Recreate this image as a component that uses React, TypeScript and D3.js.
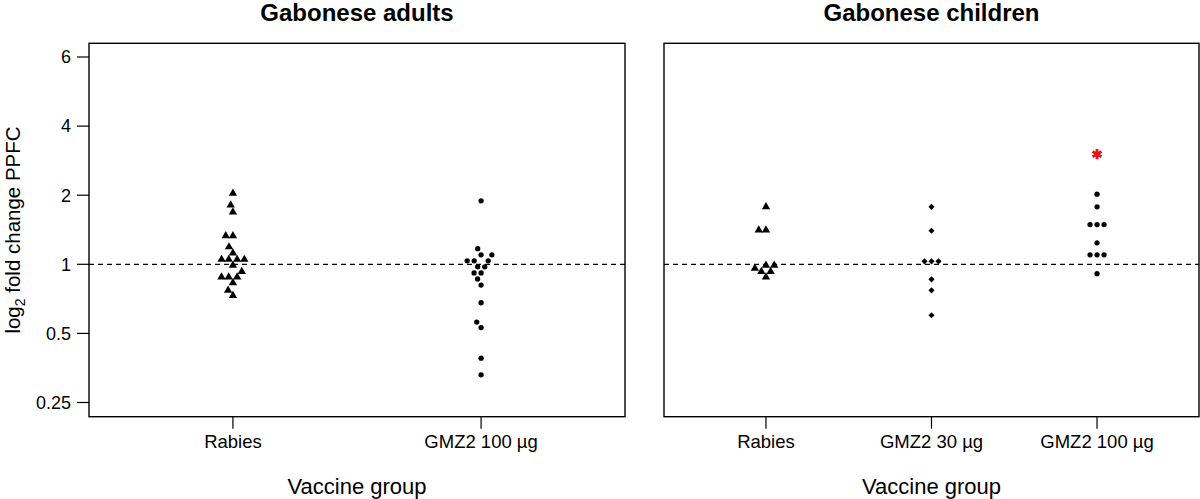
import React from "react";
import * as d3 from "d3";

// ---------- Data ----------
const adultGroups = ["Rabies", "GMZ2 100 µg"];
const childGroups = ["Rabies", "GMZ2 30 µg", "GMZ2 100 µg"];

const adultRabies = [2.04, 1.81, 1.69, 1.33, 1.33, 1.19, 1.12, 1.05, 1.05, 1.05, 1.05, 0.99, 0.93, 0.88, 0.88, 0.88, 0.83, 0.77, 0.73];
const adultGMZ2_100 = [1.89, 1.17, 1.1, 1.1, 1.036, 1.036, 1.036, 0.975, 0.975, 0.917, 0.917, 0.863, 0.812, 0.68, 0.56, 0.53, 0.39, 0.33];

const childRabies = [1.78, 1.41, 1.41, 0.99, 0.99, 0.96, 0.93, 0.93, 0.88];
const childGMZ2_30 = [1.78, 1.4, 1.03, 1.03, 1.03, 0.86, 0.77, 0.6];
const childGMZ2_100 = [2.02, 1.78, 1.49, 1.49, 1.49, 1.24, 1.1, 1.1, 1.1, 0.91];

const significanceGroup = "GMZ2 100 µg";
const significanceValue = 3.02;

const yTickValues = [0.25, 0.5, 1, 2, 4, 8];
const yTickLabels = ["0.25", "0.5", "1", "2", "4", "6"];
const yDomain = [0.2168, 9.18];
const referenceValue = 1;

// ---------- Layout ----------
const W = 1200;
const H = 499;
const top = 43.3;
const bottom = 416.7;
const FONT = "'Liberation Sans', Arial, Helvetica, sans-serif";

const yScale = d3.scaleLog().base(2).domain(yDomain).range([bottom, top]);

type Shape = "triangle" | "circle" | "diamond";

function swarm(values: number[], d: number): number[] {
  const idx = values.map((_, i) => i).sort((a, b) => values[a] - values[b]);
  const placed: { x: number; y: number }[] = [];
  const out = new Array(values.length).fill(0);
  for (const i of idx) {
    const y = yScale(values[i]);
    const cands = [0];
    for (const p of placed) {
      const dy = Math.abs(p.y - y);
      if (dy < d) {
        const dx = Math.sqrt(d * d - dy * dy);
        cands.push(p.x + dx, p.x - dx);
      }
    }
    const ok = cands.filter((c) =>
      placed.every((p) => Math.hypot(p.x - c, p.y - y) >= d - 1e-3)
    );
    ok.sort((a, b) => Math.abs(a) - Math.abs(b) || a - b);
    const x = ok[0];
    placed.push({ x, y });
    out[i] = x;
  }
  return out;
}

const symTri = d3.symbol(d3.symbolTriangle, 30)() as string;
const symCircle = d3.symbol(d3.symbolCircle, 22)() as string;
const symDiamond = d3.symbol(d3.symbolSquare, 19)() as string;
const symStar = d3.symbol(d3.symbolAsterisk, 75)() as string;

function Marker({ shape, x, y }: { shape: Shape; x: number; y: number }) {
  if (shape === "triangle") return <path d={symTri} transform={`translate(${x},${y})`} fill="#000" />;
  if (shape === "diamond") return <path d={symDiamond} transform={`translate(${x},${y}) rotate(45)`} fill="#000" />;
  return <path d={symCircle} transform={`translate(${x},${y})`} fill="#000" />;
}

interface Series {
  group: string;
  values: number[];
  shape: Shape;
}

function Panel({
  x0,
  x1,
  groups,
  padding,
  series,
  title,
  showYAxis,
  sig,
}: {
  x0: number;
  x1: number;
  groups: string[];
  padding: number;
  series: Series[];
  title: string;
  showYAxis: boolean;
  sig?: { group: string; value: number };
}) {
  const x = d3.scalePoint<string>().domain(groups).range([x0, x1]).padding(padding);
  const cx = (x0 + x1) / 2;
  return (
    <g>
      <text x={cx} y={21} textAnchor="middle" fontFamily={FONT} fontWeight="bold" fontSize={24}>
        {title}
      </text>
      <line
        x1={x0}
        x2={x1}
        y1={yScale(referenceValue)}
        y2={yScale(referenceValue)}
        stroke="#000"
        strokeWidth={1.2}
        strokeDasharray="5,4"
      />
      {series.map((s) => {
        const off = swarm(s.values, s.shape === "triangle" ? 7.2 : 7);
        return (
          <g key={s.group}>
            {s.values.map((v, i) => (
              <Marker key={i} shape={s.shape} x={(x(s.group) as number) + off[i]} y={yScale(v)} />
            ))}
          </g>
        );
      })}
      {sig && (
        <path
          d={symStar}
          transform={`translate(${x(sig.group)},${yScale(sig.value)})`}
          fill="none"
          stroke="#e8141b"
          strokeWidth={2.8}
        />
      )}
      <rect x={x0} y={top} width={x1 - x0} height={bottom - top} fill="none" stroke="#000" strokeWidth={1.4} />
      {groups.map((g) => (
        <g key={g}>
          <line x1={x(g)} x2={x(g)} y1={bottom} y2={bottom + 12} stroke="#000" strokeWidth={1.2} />
          <text x={x(g)} y={448} textAnchor="middle" fontFamily={FONT} fontSize={18.5}>
            {g}
          </text>
        </g>
      ))}
      <text x={cx} y={494} textAnchor="middle" fontFamily={FONT} fontSize={22}>
        Vaccine group
      </text>
      {showYAxis && (
        <g>
          {yTickValues.map((t, i) => (
            <g key={t}>
              <line x1={x0 - 12} x2={x0} y1={yScale(t)} y2={yScale(t)} stroke="#000" strokeWidth={1.2} />
              <text
                x={x0 - 18}
                y={yScale(t)}
                dy="0.35em"
                textAnchor="end"
                fontFamily={FONT}
                fontSize={18}
              >
                {yTickLabels[i]}
              </text>
            </g>
          ))}
          <text
            transform={`translate(20,${(top + bottom) / 2}) rotate(-90)`}
            textAnchor="middle"
            fontFamily={FONT}
            fontSize={20.5}
          >
            log<tspan fontSize={14} dy={5}>2</tspan>
            <tspan dy={-5}> fold change PPFC</tspan>
          </text>
        </g>
      )}
    </g>
  );
}

export default function App() {
  return (
    <svg
      width={W}
      height={H}
      viewBox={`0 0 ${W} ${H}`}
      style={{ position: "absolute", left: 0, top: 0, background: "#fff", display: "block" }}
    >
      <rect x={0} y={0} width={W} height={H} fill="#fff" />
      <Panel
        x0={89}
        x1={625}
        groups={adultGroups}
        padding={0.58}
        title="Gabonese adults"
        showYAxis={true}
        series={[
          { group: adultGroups[0], values: adultRabies, shape: "triangle" },
          { group: adultGroups[1], values: adultGMZ2_100, shape: "circle" },
        ]}
      />
      <Panel
        x0={664}
        x1={1199}
        groups={childGroups}
        padding={0.616}
        title="Gabonese children"
        showYAxis={false}
        sig={{ group: significanceGroup, value: significanceValue }}
        series={[
          { group: childGroups[0], values: childRabies, shape: "triangle" },
          { group: childGroups[1], values: childGMZ2_30, shape: "diamond" },
          { group: childGroups[2], values: childGMZ2_100, shape: "circle" },
        ]}
      />
    </svg>
  );
}
